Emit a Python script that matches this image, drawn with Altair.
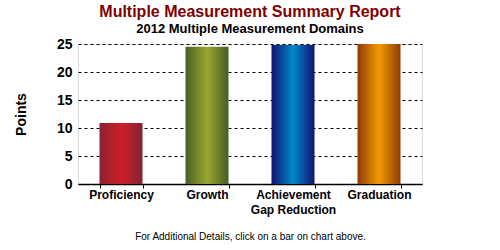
import altair as alt
import pandas as pd

categories = ["Proficiency", "Growth", "Achievement Gap Reduction", "Graduation"]
points = [10.9, 24.5, 24.8, 25.0]
edge_colors = ["#8a2230", "#4a5c26", "#12126e", "#8f3a08"]
center_colors = ["#cc1f2a", "#9aa72e", "#0088c8", "#f29a00"]

df = pd.DataFrame({"category": categories, "points": points})
FONT = "Arial, Liberation Sans"

x_enc = alt.X(
    "category:N",
    sort=categories,
    scale=alt.Scale(paddingInner=0.5, paddingOuter=0.25),
    axis=alt.Axis(
        title="For Additional Details, click on a bar on chart above.",
        titleFont=FONT, titleFontSize=10, titleFontWeight="normal",
        titlePadding=16, titleColor="black",
        labelFont=FONT, labelFontSize=12, labelFontWeight="bold", labelColor="black",
        labelAngle=0, labelPadding=1, labelLineHeight=15,
        labelExpr="split(replace(datum.label, 'Achievement ', 'Achievement|'), '|')",
        domainColor="black", domainWidth=1.5, tickColor="black", tickSize=4,
        tickBand="extent", grid=False,
    ),
)
y_enc = alt.Y(
    "points:Q",
    scale=alt.Scale(domain=[0, 25]),
    axis=alt.Axis(
        title="Points", titleFont=FONT, titleFontSize=14, titleFontWeight="bold",
        titleColor="black", titlePadding=28,
        values=[0, 5, 10, 15, 20, 25],
        labelFont=FONT, labelFontSize=14, labelFontWeight="bold", labelColor="black",
        labelPadding=6, domain=False, ticks=False,
        grid=True, gridColor="black", gridDash=[3, 3], gridWidth=1,
    ),
)

layers = []
for cat, e, c in zip(categories, edge_colors, center_colors):
    grad = alt.Gradient(
        gradient="linear", x1=0, x2=1, y1=0, y2=0,
        stops=[alt.GradientStop(color=e, offset=0),
               alt.GradientStop(color=c, offset=0.5),
               alt.GradientStop(color=e, offset=1)],
    )
    layers.append(
        alt.Chart(df).transform_filter(alt.datum.category == cat)
        .mark_bar(color=grad)
        .encode(x=x_enc, y=y_enc)
    )

chart = alt.layer(*layers).properties(
    width=344, height=140,
    title=alt.TitleParams(
        text="Multiple Measurement Summary Report",
        subtitle="2012 Multiple Measurement Domains",
        font=FONT, fontSize=16, fontWeight="bold", color="#800000",
        subtitleFont=FONT, subtitleFontSize=13, subtitleFontWeight="bold",
        subtitleColor="black", subtitlePadding=3, anchor="middle", offset=1,
    ),
    autosize=alt.AutoSizeParams(type="none"),
    padding={"left": 78, "top": 44, "right": 78, "bottom": 66},
).configure_view(stroke=None).configure(background="white")

chart.save("out.html", embed_options={"renderer": "svg", "actions": False})
